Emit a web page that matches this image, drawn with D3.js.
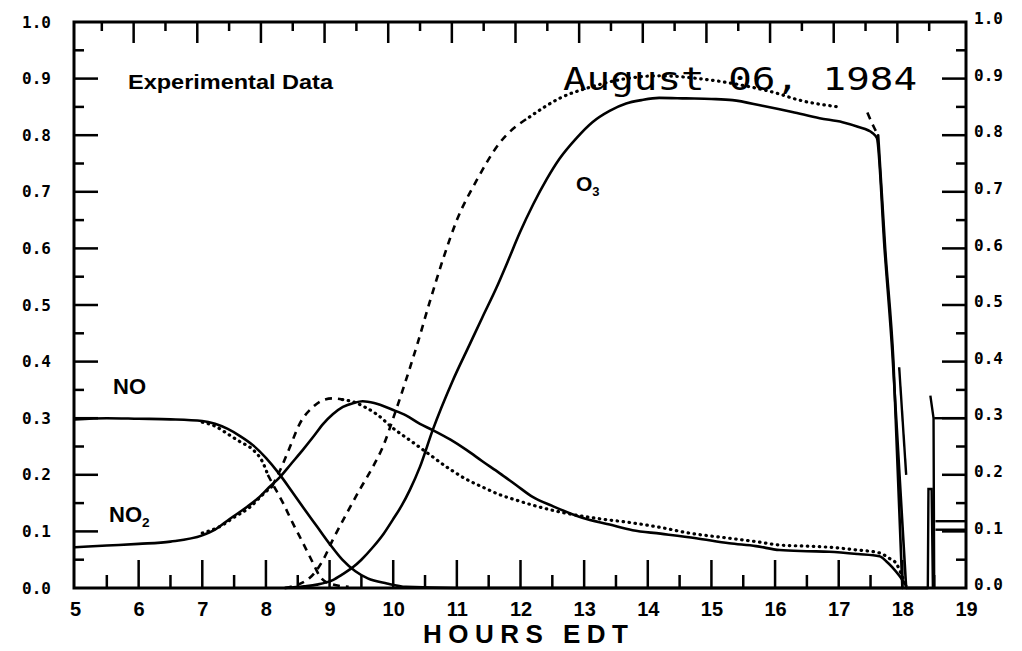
<!DOCTYPE html>
<html>
<head>
<meta charset="utf-8">
<script src="https://cdn.jsdelivr.net/npm/d3@7"></script>
<style>
  body { margin: 0; background: #fff; }
  svg { display: block; }
</style>
</head>
<body>
<div id="chart"></div>
<script>
// hours EDT vs concentration (ppm)
const noObserved = [
  [5, 0.298], [5.5, 0.3], [6, 0.299], [6.5, 0.298], [7, 0.295], [7.2, 0.29],
  [7.4, 0.281], [7.6, 0.268], [7.8, 0.252], [8.0, 0.23], [8.2, 0.203],
  [8.4, 0.172], [8.6, 0.14], [8.8, 0.109], [9.0, 0.078], [9.2, 0.05],
  [9.4, 0.03], [9.6, 0.017], [9.9, 0.008], [10.2, 0.002], [11, 0], [18.4, 0],
];
const noModel = [
  [7.0, 0.293], [7.2, 0.286], [7.43, 0.27], [7.6, 0.258], [7.8, 0.244],
  [7.95, 0.222], [8.03, 0.2], [8.1, 0.185], [8.27, 0.15], [8.42, 0.115],
  [8.58, 0.08], [8.74, 0.044], [8.85, 0.02], [9.0, 0.008], [9.3, 0.002],
];
const no2Observed = [
  [5, 0.072], [5.5, 0.075], [6, 0.078], [6.5, 0.082], [7, 0.093], [7.2, 0.103],
  [7.43, 0.122], [7.7, 0.143], [7.9, 0.161], [8.05, 0.178], [8.22, 0.196],
  [8.4, 0.22], [8.58, 0.244], [8.75, 0.268], [8.9, 0.29], [9.05, 0.307],
  [9.21, 0.32], [9.38, 0.327], [9.52, 0.33], [9.7, 0.327], [9.99, 0.315],
  [10.2, 0.305], [10.42, 0.29], [10.62, 0.279], [10.9, 0.262], [11.15, 0.244],
  [11.4, 0.224], [11.67, 0.203], [11.93, 0.182], [12.19, 0.161], [12.5, 0.145],
  [12.97, 0.124], [13.4, 0.112], [13.76, 0.102], [14.2, 0.096], [14.76, 0.088],
  [15.28, 0.079], [15.7, 0.074], [16.07, 0.067], [16.5, 0.065], [16.85, 0.064],
  [17.3, 0.06], [17.64, 0.056], [17.75, 0.047], [17.84, 0.037], [17.95, 0.022],
  [18.06, 0.004],
];
const no2Model = [
  [7.0, 0.097], [7.3, 0.11], [7.5, 0.125], [7.75, 0.143], [7.95, 0.165],
  [8.1, 0.18], [8.25, 0.215], [8.38, 0.25], [8.53, 0.29], [8.74, 0.32],
  [8.9, 0.332], [9.05, 0.335], [9.2, 0.333], [9.37, 0.329], [9.55, 0.32],
  [9.74, 0.307], [9.99, 0.283], [10.3, 0.258], [10.52, 0.24], [10.89, 0.21],
  [11.15, 0.192], [11.41, 0.178], [11.67, 0.165], [11.94, 0.155], [12.3, 0.143],
  [12.72, 0.132], [13.2, 0.123], [13.76, 0.115], [14.2, 0.107], [14.65, 0.097],
  [15.28, 0.088], [15.7, 0.082], [16.07, 0.076], [16.5, 0.074], [16.85, 0.072],
  [17.3, 0.067], [17.64, 0.062], [17.8, 0.052], [17.9, 0.044], [18.0, 0.02],
  [18.05, 0.005],
];
const o3Observed = [
  [8.3, 0], [8.6, 0.003], [8.8, 0.006], [9.05, 0.014], [9.2, 0.024],
  [9.37, 0.037], [9.5, 0.05], [9.68, 0.072], [9.85, 0.096], [9.99, 0.12],
  [10.13, 0.145], [10.26, 0.173], [10.42, 0.214], [10.62, 0.279], [10.93, 0.365],
  [11.2, 0.43], [11.4, 0.478], [11.62, 0.53], [11.8, 0.577], [11.99, 0.628],
  [12.2, 0.678], [12.41, 0.722], [12.61, 0.758], [12.88, 0.795], [13.13, 0.823],
  [13.4, 0.843], [13.66, 0.856], [13.9, 0.862], [14.18, 0.866], [14.6, 0.865],
  [15.0, 0.864], [15.33, 0.862], [15.8, 0.852], [16.27, 0.841], [16.7, 0.83],
  [17.06, 0.823], [17.3, 0.815], [17.53, 0.804], [17.6, 0.795], [17.72, 0.6],
  [17.84, 0.42], [17.95, 0.21], [18.06, 0],
];
const o3Model = [
  [8.3, 0], [8.69, 0.018], [8.9, 0.05], [9.05, 0.085], [9.27, 0.132],
  [9.47, 0.173], [9.68, 0.214], [9.84, 0.25], [10.0, 0.3], [10.15, 0.35],
  [10.39, 0.435], [10.57, 0.504], [10.78, 0.58], [11.0, 0.65], [11.31, 0.72],
  [11.67, 0.786], [12.14, 0.832], [12.61, 0.865], [13.1, 0.885], [13.66, 0.9],
  [14.2, 0.905], [14.8, 0.9], [15.4, 0.89], [16.0, 0.875], [16.38, 0.862],
  [17.0, 0.85], [17.45, 0.84], [17.55, 0.815], [17.62, 0.8], [17.73, 0.6],
  [17.86, 0.4], [18.0, 0],
];
// instrument traces after the chamber was opened
const tailTraces = [
  [[17.95, 0.39], [18.06, 0.2]],
  [[18.06, 0], [18.4, 0]],
  [[18.4, 0], [18.41, 0.175], [18.46, 0.175], [18.48, 0]],
  [[18.44, 0.34], [18.49, 0.3], [18.5, 0]],
  [[18.5, 0.3], [19, 0.3]],
  [[18.52, 0.118], [19, 0.118]],
  [[18.52, 0.103], [19, 0.103]],
];

const hourTicks = d3.range(5, 20);
const hourMinorTicks = d3.range(5.5, 19, 1);
const ppmTicks = d3.range(0, 11).map(d => d / 10);
const ppmMinorTicks = d3.range(0, 10).map(d => d / 10 + 0.05);

// which stretch of a model curve is drawn with which pen
const noModelPen = [[7.0, 8.03, 'dot'], [8.03, 9.3, 'dash']];
const no2ModelPen = [[7.0, 8.1, 'dot'], [8.1, 9.2, 'dash'], [9.2, 18.05, 'dot']];
const o3ModelPen = [[8.3, 12.14, 'dash'], [12.14, 17.0, 'dot'],
  [17.45, 17.62, 'dash'], [17.62, 18.0, 'solid']];

const width = 1022;
const height = 651;
const plot = {left: 74, right: 966, top: 22, bottom: 588};

const svg = d3.select('#chart').append('svg')
  .attr('width', width)
  .attr('height', height);

const x = d3.scaleLinear().domain([5, 19]).range([plot.left + 1, plot.right]);
const y = d3.scaleLinear().domain([0, 1]).range([plot.bottom, plot.top]);

// tick marks as thin filled bars, all pointing into the plot
const tickW = 2.5;
function tickMarks(values, side, len) {
  svg.append('g')
    .selectAll('rect')
    .data(values)
    .join('rect')
    .attr('fill', '#000')
    .attr('x', d => {
      if (side === 'bottom') return x(d) - tickW / 2;
      // the top scale was plotted a few pixels left of the bottom one
      if (side === 'top') return x(d) - 5 - tickW / 2;
      if (side === 'left') return plot.left;
      return plot.right - len;
    })
    .attr('y', d => {
      if (side === 'bottom') return plot.bottom - len;
      if (side === 'top') return plot.top;
      return y(d) - tickW / 2;
    })
    .attr('width', side === 'bottom' || side === 'top' ? tickW : len)
    .attr('height', side === 'bottom' || side === 'top' ? len : tickW);
}

tickMarks(hourTicks.slice(1, -1), 'bottom', 28);
tickMarks(hourMinorTicks, 'bottom', 13);
tickMarks(hourTicks.slice(1, -1), 'top', 21);
tickMarks(hourMinorTicks, 'top', 9);
tickMarks(ppmTicks.slice(1, -1), 'left', 24);
tickMarks(ppmMinorTicks, 'left', 10);
tickMarks(ppmTicks.slice(1, -1), 'right', 24);
tickMarks(ppmMinorTicks, 'right', 10);

const curveLine = d3.line()
  .x(d => x(d[0]))
  .y(d => y(d[1]))
  .curve(d3.curveMonotoneX);

const pens = {
  solid: {dash: null, width: 2.6, cap: 'round'},
  dash: {dash: '7,6', width: 2.6, cap: 'butt'},
  dot: {dash: '0.5,5.5', width: 3.2, cap: 'round'},
};

function drawTrace(points, penName) {
  const pen = pens[penName];
  svg.append('path')
    .attr('d', curveLine(points))
    .attr('fill', 'none')
    .attr('stroke', '#000')
    .attr('stroke-width', pen.width)
    .attr('stroke-linecap', pen.cap)
    .attr('stroke-linejoin', 'round')
    .attr('stroke-dasharray', pen.dash);
}

function drawModel(points, penList) {
  penList.forEach(([from, to, penName]) => {
    const part = points.filter(d => d[0] >= from && d[0] <= to);
    if (part.length > 1) drawTrace(part, penName);
  });
}

drawModel(noModel, noModelPen);
drawModel(no2Model, no2ModelPen);
drawModel(o3Model, o3ModelPen);
drawTrace(noObserved, 'solid');
drawTrace(no2Observed, 'solid');
drawTrace(o3Observed, 'solid');
tailTraces.forEach(t => {
  svg.append('path')
    .attr('d', d3.line().x(d => x(d[0])).y(d => y(d[1]))(t))
    .attr('fill', 'none')
    .attr('stroke', '#000')
    .attr('stroke-width', 2.4);
});

// tick labels through d3 axes
const labelFont = '"DejaVu Sans Mono", monospace';

function labelsOnly(g) {
  g.select('.domain').remove();
  g.selectAll('.tick line').remove();
  g.selectAll('.tick text')
    .attr('fill', '#000')
    .attr('font-family', labelFont)
    .attr('font-weight', 'bold')
    .attr('font-size', 16);
}

svg.append('g')
  .attr('transform', `translate(0,${plot.bottom})`)
  .call(d3.axisBottom(x).tickValues(hourTicks).tickSize(0).tickPadding(14)
    .tickFormat(d3.format('d')))
  .call(labelsOnly)
  .call(g => g.selectAll('.tick text')
    .attr('font-family', '"Liberation Sans Narrow", sans-serif')
    .attr('font-size', 20));

svg.append('g')
  .attr('transform', `translate(${plot.left},0)`)
  .call(d3.axisLeft(y).tickValues(ppmTicks).tickSize(0).tickPadding(23)
    .tickFormat(d3.format('.1f')))
  .call(labelsOnly);

svg.append('g')
  .attr('transform', `translate(${plot.right},0)`)
  .call(d3.axisRight(y).tickValues(ppmTicks).tickSize(0).tickPadding(8)
    .tickFormat(d3.format('.1f')))
  .call(labelsOnly)
  .call(g => g.selectAll('.tick text').attr('dy', '0.1em'));

// frame
svg.append('rect')
  .attr('x', plot.left)
  .attr('y', plot.top)
  .attr('width', plot.right - plot.left)
  .attr('height', plot.bottom - plot.top)
  .attr('fill', 'none')
  .attr('stroke', '#000')
  .attr('stroke-width', 3);

svg.append('text')
  .attr('x', 423)
  .attr('y', 643)
  .attr('font-family', '"Liberation Sans Narrow", sans-serif')
  .attr('font-weight', 'bold')
  .attr('font-size', 26)
  .attr('textLength', 205)
  .attr('lengthAdjust', 'spacing')
  .text('HOURS EDT');

// annotations
svg.append('text')
  .attr('x', 128)
  .attr('y', 89)
  .attr('font-family', '"Liberation Sans Narrow", sans-serif')
  .attr('font-weight', 'bold')
  .attr('font-size', 21)
  .attr('textLength', 205)
  .attr('lengthAdjust', 'spacingAndGlyphs')
  .text('Experimental Data');

svg.append('text')
  .attr('x', 563)
  .attr('y', 90)
  .attr('font-family', '"DejaVu Sans Mono", monospace')
  .attr('font-size', 32)
  .attr('textLength', 354)
  .attr('lengthAdjust', 'spacingAndGlyphs')
  .text('August 06, 1984');

function species(xPos, yPos, base, sub, size) {
  const t = svg.append('text')
    .attr('x', xPos)
    .attr('y', yPos)
    .attr('font-family', '"Liberation Sans", Arial, sans-serif')
    .attr('font-weight', 'bold')
    .attr('font-size', size)
    .text(base);
  if (sub) {
    t.append('tspan')
      .attr('font-size', size * 0.62)
      .attr('dy', size * 0.22)
      .text(sub);
  }
}

species(113, 394, 'NO', null, 22);
species(109, 522, 'NO', '2', 22);
species(576, 191, 'O', '3', 21);
</script>
</body>
</html>
